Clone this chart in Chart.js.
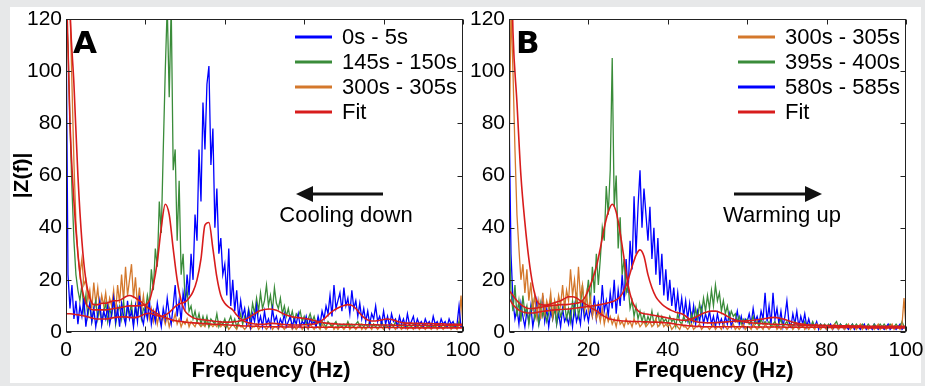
<!DOCTYPE html>
<html>
<head>
<meta charset="utf-8">
<script src="https://cdn.jsdelivr.net/npm/chart.js@4.4.1/dist/chart.umd.min.js"></script>
<style>
  html, body { margin: 0; padding: 0; background: #e7e8e9; width: 925px; height: 386px; overflow: hidden; }
  #wrap { position: absolute; left: 10px; top: 7px; width: 911px; height: 376px; background: #fff; }
  #chartA { position: absolute; left: 0; top: 0; }
  #chartB { position: absolute; left: 455px; top: 0; }
</style>
</head>
<body>
<div id="wrap">
  <canvas id="chartA" width="490" height="376"></canvas>
  <canvas id="chartB" width="460" height="376"></canvas>
</div>
<script>
// sample grids (Hz): spectra every 0.5 Hz, fits every 1 Hz
const freqNoise = [];
for (let i = 0; i <= 200; i++) freqNoise.push(i / 2);
const freqFit = [];
for (let f = 0; f <= 100; f++) freqFit.push(f);

const xTicks = [0, 20, 40, 60, 80, 100];
const yTicks = [0, 20, 40, 60, 80, 100, 120];

// ---- panel A : cooling down ----
const a0to5 = [
  125, 22, 9, 18, 5, 12, 3, 10, 6, 13,
  2, 8, 11, 4, 9, 2, 7, 12, 3, 8,
  5, 10, 3, 7, 13, 4, 9, 2, 11, 6,
  3, 12, 5, 8, 2, 10, 4, 14, 6, 3,
  9, 5, 12, 3, 8, 4, 11, 6, 2, 9,
  5, 13, 7, 3, 10, 18, 6, 12, 4, 15,
  10, 22, 14, 30, 20, 45, 35, 70, 50, 88,
  70, 95, 102, 64, 78, 40, 55, 30, 36, 22,
  26, 14, 32, 10, 20, 8, 16, 5, 12, 6,
  9, 3, 8, 2, 7, 4, 10, 3, 6, 2,
  8, 3, 5, 2, 9, 4, 6, 2, 5, 3,
  7, 2, 4, 6, 2, 5, 3, 7, 2, 4,
  3, 6, 2, 5, 3, 4, 2, 6, 3, 8,
  5, 10, 7, 14, 6, 18, 9, 12, 15, 8,
  17, 10, 13, 7, 16, 9, 12, 6, 11, 5,
  9, 4, 8, 3, 7, 5, 10, 4, 6, 3,
  8, 3, 6, 2, 7, 4, 5, 2, 6, 3,
  5, 2, 7, 3, 4, 6, 2, 5, 3, 4,
  2, 5, 3, 4, 2, 6, 3, 4, 2, 5,
  3, 4, 2, 5, 3, 4, 2, 3, 10, 2,
  3
];
const a145to150 = [
  125, 110, 80, 55, 35, 22, 16, 12, 18, 8,
  14, 6, 11, 4, 9, 12, 5, 10, 3, 8,
  11, 4, 9, 6, 13, 3, 8, 10, 5, 12,
  4, 9, 7, 11, 3, 10, 6, 12, 5, 9,
  8, 14, 10, 24, 16, 32, 25, 50, 38, 70,
  100, 125, 90, 125, 62, 70, 35, 58, 22, 30,
  12, 16, 8, 10, 5, 8, 4, 7, 3, 6,
  3, 6, 2, 5, 4, 3, 7, 2, 4, 3,
  5, 2, 4, 6, 3, 5, 2, 4, 7, 3,
  6, 4, 9, 5, 11, 7, 13, 8, 15, 9,
  12, 18, 10, 14, 8, 17, 11, 9, 13, 7,
  10, 6, 9, 5, 8, 4, 7, 6, 8, 4,
  6, 3, 5, 7, 4, 6, 3, 5, 2, 4,
  3, 2, 4, 3, 2, 3, 4, 2, 3, 2,
  3, 2, 4, 2, 3, 2, 3, 4, 2, 3,
  2, 3, 2, 4, 2, 3, 2, 3, 2, 4,
  2, 3, 2, 2, 3, 2, 4, 2, 3, 2,
  3, 2, 2, 3, 2, 3, 2, 2, 3, 2,
  2, 3, 2, 2, 3, 2, 2, 3, 2, 2,
  3, 2, 2, 3, 2, 2, 3, 2, 4, 2,
  2
];
const a300to305 = [
  120, 125, 125, 95, 65, 42, 30, 22, 28, 18,
  20, 12, 16, 9, 19, 11, 17, 8, 14, 10,
  15, 8, 13, 10, 16, 7, 18, 11, 22, 12,
  25, 14, 20, 26, 13, 21, 10, 17, 8, 14,
  7, 11, 5, 9, 4, 8, 3, 7, 4, 6,
  3, 6, 2, 5, 4, 7, 3, 5, 2, 4,
  3, 5, 2, 4, 3, 2, 4, 3, 2, 3,
  2, 4, 2, 3, 2, 3, 2, 4, 2, 3,
  2, 3, 1, 2, 3, 2, 1, 3, 2, 2,
  1, 2, 3, 1, 2, 2, 3, 1, 2, 2,
  2, 1, 2, 3, 1, 2, 2, 1, 3, 2,
  1, 2, 2, 3, 1, 2, 1, 2, 3, 1,
  2, 2, 1, 3, 2, 1, 2, 2, 1, 3,
  2, 1, 2, 2, 3, 1, 2, 1, 2, 2,
  1, 2, 3, 1, 2, 2, 1, 2, 3, 1,
  2, 1, 2, 2, 1, 3, 2, 1, 2, 2,
  1, 2, 2, 1, 3, 2, 1, 2, 2, 1,
  2, 3, 1, 2, 2, 1, 2, 3, 1, 2,
  2, 1, 2, 2, 1, 2, 3, 1, 2, 2,
  1, 2, 2, 3, 1, 2, 2, 1, 3, 14,
  2
];
const aFit0to5 = [
  7, 7, 6.8, 6.6, 6.3, 6, 5.6, 5.2, 5, 5,
  5, 5.2, 5.5, 5.7, 5.8, 5.8, 5.6, 5.5, 5.7, 6.3,
  7, 7.2, 6.8, 6.2, 6, 6.5, 7.5, 9, 10.3, 11,
  11.5, 13, 15.5, 20, 28, 41, 42, 32, 21, 14,
  11, 9.5, 8.5, 6.5, 5, 4, 3.5, 3.2, 3, 3,
  3, 3.2, 3.3, 3.2, 3, 2.9, 2.8, 2.7, 2.7, 2.7,
  2.8, 2.9, 3, 3.3, 4, 5, 6.5, 7.8, 8.8, 9.6,
  10.2, 10.5, 10.2, 9, 7.2, 5.6, 4.6, 4.2, 4.2, 4.5,
  4.8, 5, 4.8, 4.3, 3.8, 3.5, 3.4, 3.4, 3.3, 3.3,
  3.2, 3.2, 3.2, 3.1, 3.1, 3.1, 3, 3, 3, 3,
  3
];
const aFit145to150 = [
  140, 80, 50, 30, 17, 11, 9, 8.5, 8.5, 8.5,
  8.5, 8.7, 9, 9.2, 9.5, 9.8, 10, 10, 10, 10.2,
  10.5, 12, 18, 27, 40, 49, 45, 32, 20, 12,
  8, 6.5, 5.5, 5, 4.8, 4.6, 4.4, 4.2, 4, 3.9,
  3.8, 3.8, 3.9, 4, 4.3, 4.8, 5.5, 6.5, 7.5, 8.2,
  8.6, 8.8, 8.7, 8.3, 7.6, 6.8, 6.2, 5.8, 5.6, 5.4,
  5.2, 5, 4.6, 4.2, 3.8, 3.5, 3.3, 3.2, 3.1, 3,
  3, 3, 2.9, 2.9, 2.9, 2.8, 2.8, 2.8, 2.8, 2.7,
  2.7, 2.7, 2.7, 2.6, 2.6, 2.6, 2.6, 2.6, 2.5, 2.5,
  2.5, 2.5, 2.5, 2.5, 2.5, 2.5, 2.5, 2.5, 2.5, 2.5,
  2.5
];
const aFit300to305 = [
  200, 125, 95, 60, 35, 20, 13, 10.5, 10.5, 11,
  11, 11.5, 12, 12, 12.5, 13.5, 14, 13.5, 12.5, 11.5,
  10, 9, 8, 7, 6, 5.5, 5, 4.5, 4.2, 4,
  3.8, 3.6, 3.5, 3.4, 3.3, 3.2, 3.1, 3, 3, 2.9,
  2.8, 2.7, 2.6, 2.5, 2.4, 2.3, 2.3, 2.2, 2.2, 2.1,
  2.1, 2, 2, 2, 2, 1.9, 1.9, 1.9, 1.9, 1.9,
  1.8, 1.8, 1.8, 1.8, 1.8, 1.8, 1.8, 1.8, 1.8, 1.8,
  1.8, 1.8, 1.7, 1.7, 1.7, 1.7, 1.7, 1.7, 1.7, 1.7,
  1.7, 1.7, 1.7, 1.7, 1.7, 1.6, 1.6, 1.6, 1.6, 1.6,
  1.6, 1.6, 1.6, 1.6, 1.6, 1.6, 1.6, 1.6, 1.6, 1.6,
  1.6
];

// ---- panel B : warming up ----
const b300to305 = [
  60, 125, 100, 70, 45, 32, 20, 26, 15, 24,
  12, 19, 8, 14, 6, 12, 5, 15, 7, 12,
  9, 15, 6, 12, 8, 14, 10, 18, 9, 16,
  12, 24, 14, 20, 11, 25, 13, 18, 9, 15,
  8, 13, 6, 10, 5, 8, 4, 9, 3, 7,
  4, 6, 3, 5, 2, 6, 3, 4, 2, 5,
  3, 4, 2, 5, 3, 4, 2, 3, 4, 2,
  3, 4, 2, 3, 5, 2, 3, 4, 2, 3,
  2, 3, 1, 2, 3, 2, 1, 3, 2, 2,
  1, 2, 3, 1, 2, 2, 3, 1, 2, 2,
  2, 1, 2, 3, 1, 2, 2, 1, 3, 2,
  1, 2, 2, 3, 1, 2, 1, 2, 3, 1,
  2, 2, 1, 3, 2, 1, 2, 2, 1, 3,
  2, 1, 2, 2, 3, 1, 2, 1, 2, 2,
  1, 2, 3, 1, 2, 2, 1, 2, 3, 1,
  2, 1, 2, 2, 1, 3, 2, 1, 2, 2,
  1, 2, 2, 1, 3, 2, 1, 2, 2, 1,
  2, 3, 1, 2, 2, 1, 2, 3, 1, 2,
  2, 1, 2, 2, 1, 2, 3, 1, 2, 2,
  1, 2, 2, 3, 1, 2, 2, 1, 3, 13,
  2
];
const b395to400 = [
  42, 15, 8, 18, 6, 12, 4, 14, 7, 10,
  3, 9, 12, 5, 8, 3, 11, 6, 9, 4,
  7, 12, 5, 9, 3, 10, 6, 8, 11, 5,
  9, 4, 12, 7, 15, 6, 10, 18, 8, 13,
  20, 11, 25, 15, 30, 18, 28, 40, 35, 56,
  45, 62, 105, 48, 60, 32, 44, 22, 28, 15,
  18, 9, 12, 6, 10, 5, 8, 4, 7, 3,
  6, 4, 8, 3, 5, 7, 3, 6, 4, 5,
  3, 6, 4, 5, 2, 7, 4, 3, 6, 4,
  5, 3, 7, 4, 9, 5, 11, 7, 13, 8,
  14, 9, 16, 10, 18, 12, 15, 8, 12, 7,
  10, 5, 8, 6, 7, 4, 6, 3, 5, 4,
  5, 3, 4, 6, 3, 4, 2, 5, 3, 4,
  3, 4, 2, 3, 4, 2, 3, 5, 2, 3,
  4, 2, 3, 2, 4, 3, 2, 3, 2, 4,
  2, 3, 2, 4, 2, 3, 2, 3, 2, 3,
  2, 3, 2, 2, 3, 4, 2, 3, 2, 2,
  3, 2, 2, 3, 2, 3, 2, 2, 3, 2,
  2, 3, 2, 2, 3, 2, 2, 3, 2, 3,
  2, 2, 3, 2, 2, 3, 2, 2, 4, 2,
  2
];
const b580to585 = [
  86, 30, 12, 5, 9, 3, 11, 6, 2, 8,
  4, 10, 2, 7, 12, 3, 6, 14, 4, 9,
  2, 8, 5, 11, 3, 7, 2, 9, 4, 6,
  3, 8, 2, 10, 4, 7, 3, 12, 5, 8,
  4, 9, 6, 14, 5, 11, 7, 18, 8, 12,
  6, 15, 9, 20, 7, 16, 10, 22, 12, 28,
  15, 35, 24, 52, 30, 48, 62, 40, 55, 45,
  35, 48, 28, 40, 22, 36, 18, 30, 14, 24,
  12, 20, 10, 17, 8, 15, 7, 13, 6, 12,
  5, 11, 4, 10, 3, 8, 4, 9, 3, 7,
  4, 8, 3, 6, 2, 7, 3, 5, 2, 6,
  3, 7, 2, 5, 4, 8, 3, 6, 2, 5,
  4, 7, 3, 9, 4, 6, 3, 8, 5, 15,
  4, 10, 3, 15, 5, 9, 3, 8, 2, 6,
  12, 4, 2, 7, 3, 8, 2, 6, 3, 7,
  2, 5, 2, 3, 2, 4, 1, 3, 2, 2,
  1, 2, 3, 1, 2, 2, 1, 3, 2, 1,
  2, 1, 2, 3, 1, 2, 2, 1, 2, 3,
  1, 2, 2, 1, 3, 2, 1, 2, 2, 1,
  2, 3, 1, 2, 2, 1, 2, 3, 1, 2,
  2
];
const bFit300to305 = [
  180, 115, 88, 60, 42, 28, 18, 12, 10.5, 10.3,
  10.5, 11, 11.5, 12, 12.8, 13.5, 13.5, 13, 12, 11,
  10, 9, 8.2, 7, 6, 5.2, 4.8, 4.5, 4.3, 4.2,
  4.1, 4, 4, 4, 3.9, 3.9, 3.8, 3.8, 3.7, 3.6,
  3.5, 3.3, 3, 2.8, 2.6, 2.4, 2.3, 2.2, 2.1, 2,
  2, 2, 2, 2, 2, 2, 2, 2, 2, 2,
  1.9, 1.9, 1.9, 1.9, 1.9, 1.9, 1.9, 1.9, 1.9, 1.9,
  1.8, 1.8, 1.8, 1.8, 1.8, 1.8, 1.8, 1.8, 1.8, 1.8,
  1.7, 1.7, 1.7, 1.7, 1.7, 1.7, 1.7, 1.7, 1.7, 1.7,
  1.6, 1.6, 1.6, 1.6, 1.6, 1.6, 1.6, 1.6, 1.6, 1.6,
  1.5
];
const bFit395to400 = [
  16, 14, 12, 10.5, 9.5, 9, 9, 9.2, 9.5, 9.8,
  10, 10.2, 10.3, 10.5, 10.5, 10.6, 10.8, 11, 11.5, 13,
  16, 20, 25, 32, 40, 46, 49, 46, 38, 28,
  18, 12, 9, 7.5, 7, 6.8, 6.5, 6.2, 6, 5.7,
  5.4, 5.1, 4.8, 4.6, 4.5, 4.6, 5, 5.7, 6.5, 7.2,
  7.8, 8, 8, 7.6, 6.9, 6, 5.2, 4.6, 4.2, 3.9,
  3.7, 3.5, 3.4, 3.3, 3.2, 3.1, 3, 3, 2.9, 2.9,
  2.8, 2.8, 2.7, 2.7, 2.6, 2.6, 2.5, 2.5, 2.4, 2.4,
  2.4, 2.3, 2.3, 2.3, 2.2, 2.2, 2.2, 2.1, 2.1, 2.1,
  2, 2, 2, 2, 2, 2, 2, 2, 2, 2,
  2
];
const bFit580to585 = [
  13, 10.5, 9, 8, 7.5, 7.3, 7.3, 7.5, 7.8, 8,
  8.2, 8.4, 8.5, 8.6, 8.7, 8.8, 9, 9.2, 9.4, 9.6,
  9.8, 10, 10.2, 10.5, 10.8, 11.2, 11.6, 12.3, 13.5, 16,
  20, 25, 29.5, 31.5, 29, 22, 17, 13.5, 11.5, 10,
  9, 8.2, 7.6, 7.2, 6.6, 5.5, 4.5, 4, 3.7, 3.6,
  3.5, 3.5, 3.6, 3.7, 3.8, 3.9, 4, 4, 4.1, 4.2,
  4.3, 4.4, 4.6, 4.8, 5, 5.3, 5.5, 5.6, 5.4, 5,
  4.5, 4, 3.5, 3.2, 3, 2.8, 2.7, 2.7, 2.6, 2.6,
  2.5, 2.5, 2.5, 2.4, 2.4, 2.4, 2.3, 2.3, 2.3, 2.2,
  2.2, 2.2, 2.2, 2.2, 2.2, 2.2, 2.2, 2.2, 2.2, 2.2,
  2.2
];

const BLUE = "#0000ff";
const GREEN = "#3a8c3a";
const ORANGE = "#d4782c";
const RED = "#d81c1c";

Chart.defaults.font.family = "'Liberation Sans', Arial, sans-serif";
Chart.defaults.color = "#000";

function pts(xs, ys) {
  return ys.map((y, i) => ({ x: xs[i], y: y }));
}

function spectrum(label, ys, color, order) {
  return {
    label: label,
    data: pts(freqNoise, ys),
    borderColor: color,
    borderWidth: 1.3,
    pointRadius: 0,
    tension: 0,
    order: order
  };
}

function fitLine(ys) {
  return {
    label: "Fit",
    data: pts(freqFit, ys),
    borderColor: RED,
    borderWidth: 1.6,
    pointRadius: 0,
    cubicInterpolationMode: "monotone",
    order: 0
  };
}

// frame, inward ticks, panel letter, legend, arrow and x title
const panelDecor = {
  id: "panelDecor",
  afterDatasetsDraw(chart, args, opts) {
    const ctx = chart.ctx;
    const a = chart.chartArea;
    const xs = chart.scales.x;
    const ys = chart.scales.y;
    ctx.save();

    ctx.strokeStyle = "#222";
    ctx.lineWidth = 1;
    const L = Math.round(a.left) + 0.5, R = Math.round(a.right) - 0.5;
    const T = Math.round(a.top) + 0.5, B = Math.round(a.bottom) - 0.5;
    ctx.strokeRect(L, T, R - L, B - T);
    ctx.beginPath();
    xTicks.forEach(v => {
      const p = Math.round(xs.getPixelForValue(v)) + 0.5;
      ctx.moveTo(p, B); ctx.lineTo(p, B - 5);
      ctx.moveTo(p, T); ctx.lineTo(p, T + 5);
    });
    yTicks.forEach(v => {
      const p = Math.round(ys.getPixelForValue(v)) + 0.5;
      ctx.moveTo(L, p); ctx.lineTo(L + 5, p);
      ctx.moveTo(R, p); ctx.lineTo(R - 5, p);
    });
    ctx.stroke();

    ctx.fillStyle = "#000";
    ctx.textAlign = "left";
    ctx.textBaseline = "alphabetic";
    ctx.font = "bold 31px 'DejaVu Sans'";
    ctx.fillText(opts.letter, a.left + 7, a.top + 34);

    ctx.font = "22px 'Liberation Sans'";
    ctx.textBaseline = "middle";
    opts.legend.forEach((item, i) => {
      const y = a.top + 18 + i * 25;
      ctx.strokeStyle = item.color;
      ctx.lineWidth = 3;
      ctx.beginPath();
      ctx.moveTo(a.left + 229, y);
      ctx.lineTo(a.left + 266, y);
      ctx.stroke();
      ctx.fillText(item.label, a.left + 276, y + 1);
    });

    const ar = opts.arrow;
    const ay = a.top + 175;
    const dir = ar.tip > ar.tail ? 1 : -1;
    ctx.strokeStyle = "#111";
    ctx.fillStyle = "#111";
    ctx.lineWidth = 3;
    ctx.beginPath();
    ctx.moveTo(a.left + ar.tail, ay);
    ctx.lineTo(a.left + ar.tip - dir * 15, ay);
    ctx.stroke();
    ctx.beginPath();
    ctx.moveTo(a.left + ar.tip, ay);
    ctx.lineTo(a.left + ar.tip - dir * 17, ay - 8);
    ctx.lineTo(a.left + ar.tip - dir * 17, ay + 8);
    ctx.closePath();
    ctx.fill();
    ctx.fillStyle = "#000";
    ctx.textAlign = "center";
    ctx.fillText(ar.text, a.left + ar.textX, a.top + 197);

    // x axis title sits a little right of the axis centre in the original
    ctx.font = "bold 22px 'Liberation Sans'";
    ctx.fillText(opts.xTitle, a.left + 205, a.bottom + 39);

    ctx.restore();
  }
};

function makeOptions(cfg) {
  return {
    responsive: false,
    animation: false,
    layout: { padding: { top: 12, right: cfg.padRight, left: 0, bottom: 0 } },
    plugins: {
      legend: { display: false },
      tooltip: { enabled: false },
      panelDecor: cfg.decor
    },
    scales: {
      x: {
        type: "linear",
        min: 0,
        max: 100,
        ticks: { stepSize: 20, autoSkip: false, maxRotation: 0, padding: 6, font: { size: 21 } },
        grid: { display: false, drawTicks: false, tickLength: 0 },
        border: { display: false },
        title: { display: false, text: "Frequency (Hz)" },
        afterFit(s) { s.height = 51; s.paddingLeft = 0; s.paddingRight = 0; }
      },
      y: {
        min: 0,
        max: 120,
        ticks: { stepSize: 20, padding: 4, font: { size: 21 } },
        grid: { display: false, drawTicks: false, tickLength: 0 },
        border: { display: false },
        title: {
          display: cfg.yTitle,
          text: "|Z(f)|",
          font: { size: 21, weight: "bold" },
          padding: { top: 0, bottom: 0 }
        },
        afterFit(s) { s.width = cfg.yWidth; s.paddingTop = 0; s.paddingBottom = 0; }
      }
    }
  };
}

new Chart(document.querySelector("#chartA"), {
  type: "line",
  data: {
    datasets: [
      fitLine(aFit0to5),
      fitLine(aFit145to150),
      fitLine(aFit300to305),
      spectrum("0s - 5s", a0to5, BLUE, 1),
      spectrum("145s - 150s", a145to150, GREEN, 2),
      spectrum("300s - 305s", a300to305, ORANGE, 3)
    ]
  },
  options: makeOptions({
    padRight: 37,
    yWidth: 56,
    yTitle: true,
    decor: {
      letter: "A",
      xTitle: "Frequency (Hz)",
      legend: [
        { label: "0s - 5s", color: BLUE },
        { label: "145s - 150s", color: GREEN },
        { label: "300s - 305s", color: ORANGE },
        { label: "Fit", color: RED }
      ],
      arrow: { tail: 317, tip: 230, text: "Cooling down", textX: 280 }
    }
  }),
  plugins: [panelDecor]
});

new Chart(document.querySelector("#chartB"), {
  type: "line",
  data: {
    datasets: [
      fitLine(bFit300to305),
      fitLine(bFit395to400),
      fitLine(bFit580to585),
      spectrum("300s - 305s", b300to305, ORANGE, 1),
      spectrum("395s - 400s", b395to400, GREEN, 2),
      spectrum("580s - 585s", b580to585, BLUE, 3)
    ]
  },
  options: makeOptions({
    padRight: 19,
    yWidth: 44,
    yTitle: false,
    decor: {
      letter: "B",
      xTitle: "Frequency (Hz)",
      legend: [
        { label: "300s - 305s", color: ORANGE },
        { label: "395s - 400s", color: GREEN },
        { label: "580s - 585s", color: BLUE },
        { label: "Fit", color: RED }
      ],
      arrow: { tail: 225, tip: 313, text: "Warming up", textX: 273 }
    }
  }),
  plugins: [panelDecor]
});
</script>
</body>
</html>
